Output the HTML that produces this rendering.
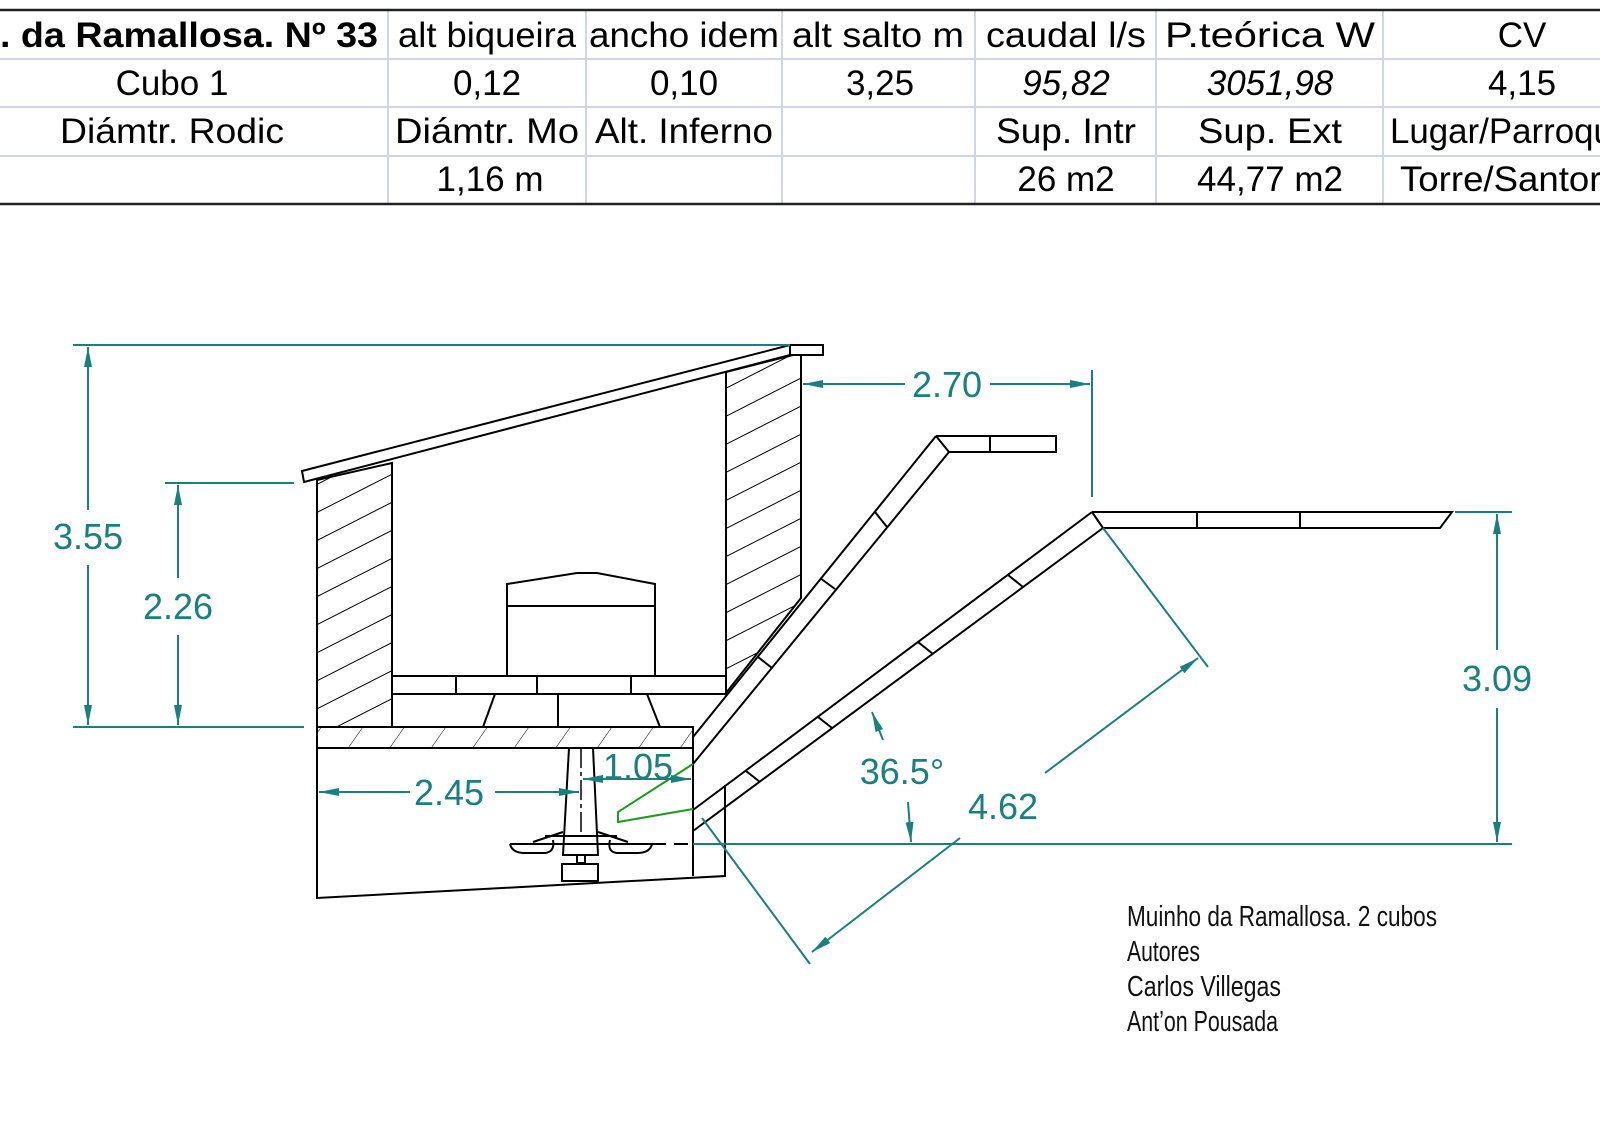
<!DOCTYPE html>
<html><head><meta charset="utf-8"><style>
html,body{margin:0;padding:0;background:#fff;width:1600px;height:1135px;overflow:hidden}
svg{display:block}
</style></head><body>
<svg width="1600" height="1135" viewBox="0 0 1600 1135" xmlns="http://www.w3.org/2000/svg">
<defs>
<pattern id="h1" patternUnits="userSpaceOnUse" width="25" height="25" patternTransform="rotate(-27)">
<line x1="0" y1="0" x2="25" y2="0" stroke="#000" stroke-width="2"/></pattern>
<pattern id="h2" patternUnits="userSpaceOnUse" width="34" height="34" patternTransform="rotate(35)">
<line x1="0" y1="0" x2="0" y2="34" stroke="#000" stroke-width="1"/></pattern>
<marker id="ar" viewBox="0 0 20 10" refX="20" refY="5" markerWidth="20" markerHeight="10" markerUnits="userSpaceOnUse" orient="auto-start-reverse"><path d="M0,1 L20,5 L0,9 z" fill="#1a7f7f"/></marker>
</defs>

<g font-family="Liberation Sans, sans-serif" font-size="35" fill="#000" text-anchor="middle">
<g stroke="#cfd6e6" stroke-width="2">
<line x1="0" y1="59" x2="1600" y2="59"/><line x1="0" y1="107" x2="1600" y2="107"/><line x1="0" y1="156" x2="1600" y2="156"/>
<line x1="388" y1="10" x2="388" y2="204"/><line x1="586" y1="10" x2="586" y2="204"/><line x1="782" y1="10" x2="782" y2="204"/>
<line x1="975" y1="10" x2="975" y2="204"/><line x1="1156" y1="10" x2="1156" y2="204"/><line x1="1383" y1="10" x2="1383" y2="204"/>
</g>
<line x1="0" y1="10" x2="1600" y2="10" stroke="#222" stroke-width="2.5"/>
<line x1="0" y1="204" x2="1600" y2="204" stroke="#222" stroke-width="2.5"/>
<text x="378" y="47" text-anchor="end" font-weight="bold" textLength="378" lengthAdjust="spacingAndGlyphs">. da Ramallosa. Nº 33</text>
<text x="487" y="47" textLength="178" lengthAdjust="spacingAndGlyphs">alt biqueira</text>
<text x="684" y="47" textLength="190" lengthAdjust="spacingAndGlyphs">ancho idem</text>
<text x="878" y="47" textLength="172" lengthAdjust="spacingAndGlyphs">alt salto m</text>
<text x="1066" y="47" textLength="160" lengthAdjust="spacingAndGlyphs">caudal l/s</text>
<text x="1270" y="47" textLength="210" lengthAdjust="spacingAndGlyphs">P.teórica  W</text><text x="1522" y="47">CV</text>
<text x="172" y="95">Cubo 1</text><text x="487" y="95">0,12</text><text x="684" y="95">0,10</text><text x="880" y="95">3,25</text>
<text x="1066" y="95" font-style="italic">95,82</text><text x="1270" y="95" font-style="italic">3051,98</text><text x="1522" y="95">4,15</text>
<text x="172" y="143" textLength="224" lengthAdjust="spacingAndGlyphs">Diámtr. Rodic</text>
<text x="487" y="143" textLength="184" lengthAdjust="spacingAndGlyphs">Diámtr. Mo</text>
<text x="684" y="143" textLength="178" lengthAdjust="spacingAndGlyphs">Alt. Inferno</text>
<text x="1066" y="143" textLength="140" lengthAdjust="spacingAndGlyphs">Sup. Intr</text>
<text x="1270" y="143" textLength="144" lengthAdjust="spacingAndGlyphs">Sup. Ext</text>
<text x="1390" y="143" text-anchor="start" textLength="250" lengthAdjust="spacingAndGlyphs">Lugar/Parroquia</text>
<text x="490" y="191">1,16 m</text><text x="1066" y="191">26 m2</text><text x="1270" y="191">44,77 m2</text>
<text x="1400" y="191" text-anchor="start" textLength="230" lengthAdjust="spacingAndGlyphs">Torre/Santoria</text>
</g>

<g stroke="#000" stroke-width="2" fill="none">
<polygon points="317,480 392,463 392,727 317,727" fill="url(#h1)"/>
<polygon points="726,372 801,353 801,598 726,693" fill="url(#h1)"/>
<polygon points="302,471 790,345 790,355 304,482" fill="#fff"/>
<rect x="790" y="345" width="33" height="10" fill="#fff"/>
<rect x="317" y="727" width="376" height="21" fill="url(#h2)"/>
<polyline points="317,748 317,898 725,876 725,785"/>
<line x1="693" y1="748" x2="693" y2="876"/>
<rect x="392" y="676" width="334" height="18" fill="#fff"/>
<line x1="456" y1="676" x2="456" y2="694"/><line x1="537" y1="676" x2="537" y2="694"/><line x1="631" y1="676" x2="631" y2="694"/>
<line x1="495" y1="694" x2="483" y2="727"/><line x1="647" y1="694" x2="660" y2="727"/><line x1="558" y1="694" x2="558" y2="727"/>
<path d="M507,676 L507,584 L577,573 L597,573 L655,584 L655,676"/>
<line x1="507" y1="606" x2="655" y2="606"/>
<polygon points="569,748 593,748 598,855 563,855" fill="#fff"/>
<line x1="581" y1="748" x2="581" y2="835" stroke-dasharray="20,4,4,4" stroke-width="1.5"/>
<path d="M510,844 L652,844 M510,844 Q512,853 525,853 L545,853 Q555,852 553,840 M652,844 Q650,853 637,853 L617,853 Q607,852 610,840 M545,836 L617,836 M533,842 L563,832 M628,842 L598,832"/>
<rect x="577" y="855" width="8" height="8"/>
<rect x="562" y="864" width="36" height="17"/>
<line x1="652" y1="844" x2="693" y2="844" stroke-dasharray="14,8"/>
<line x1="693" y1="737" x2="936" y2="436"/>
<line x1="693" y1="764" x2="949" y2="452"/>
<line x1="936" y1="436" x2="949" y2="452"/>
<polyline points="936,436 1056,436 1056,452 949,452"/>
<line x1="990" y1="436" x2="990" y2="452"/>
<line x1="875" y1="512" x2="887" y2="527"/><line x1="820" y1="578" x2="835" y2="589"/><line x1="758" y1="657" x2="772" y2="668"/>
<line x1="693" y1="810" x2="1092" y2="512"/>
<line x1="693" y1="831" x2="1103" y2="528"/>
<line x1="1092" y1="512" x2="1103" y2="528"/>
<polyline points="1092,512 1452,512 1440,528 1103,528"/>
<line x1="1197" y1="512" x2="1197" y2="528"/><line x1="1300" y1="512" x2="1300" y2="528"/>
<line x1="1008" y1="575" x2="1023" y2="587"/><line x1="918" y1="642" x2="933" y2="654"/><line x1="818" y1="717" x2="832" y2="728"/><line x1="746" y1="771" x2="760" y2="782"/>
</g>
<polyline points="693,764 618,812 618,822 693,809" fill="none" stroke="#1e9a1e" stroke-width="2"/>

<g stroke="#1a7f7f" stroke-width="2" fill="none">
<line x1="73" y1="345" x2="790" y2="345"/><line x1="73" y1="727" x2="304" y2="727"/>
<line x1="88" y1="347" x2="88" y2="510" marker-start="url(#ar)"/><line x1="88" y1="565" x2="88" y2="725" marker-end="url(#ar)"/>
<line x1="165" y1="483" x2="294" y2="483"/>
<line x1="178" y1="485" x2="178" y2="578" marker-start="url(#ar)"/><line x1="178" y1="635" x2="178" y2="725" marker-end="url(#ar)"/>
<line x1="803" y1="384" x2="905" y2="384" marker-start="url(#ar)"/><line x1="990" y1="384" x2="1090" y2="384" marker-end="url(#ar)"/>
<line x1="1092" y1="370" x2="1092" y2="497"/>
<line x1="1455" y1="512" x2="1512" y2="512"/><line x1="693" y1="844" x2="1512" y2="844"/>
<line x1="1497" y1="514" x2="1497" y2="650" marker-start="url(#ar)"/><line x1="1497" y1="708" x2="1497" y2="842" marker-end="url(#ar)"/>
<line x1="319" y1="792" x2="410" y2="792" marker-start="url(#ar)"/><line x1="495" y1="792" x2="579" y2="792" marker-end="url(#ar)"/>
<line x1="583" y1="779" x2="691" y2="779" marker-start="url(#ar)" marker-end="url(#ar)"/>
<line x1="1103" y1="528" x2="1208" y2="667"/><line x1="702" y1="818" x2="810" y2="964"/>
<line x1="812" y1="952" x2="960" y2="838" marker-start="url(#ar)"/><line x1="1045" y1="773" x2="1198" y2="658" marker-end="url(#ar)"/>
<line x1="883" y1="740" x2="872" y2="712" marker-end="url(#ar)"/>
<line x1="908" y1="802" x2="911" y2="842" marker-end="url(#ar)"/>
</g>
<g font-family="Liberation Sans, sans-serif" font-size="36" fill="#1a7f7f" text-anchor="middle">
<text x="88" y="549">3.55</text><text x="178" y="619">2.26</text><text x="947" y="397">2.70</text>
<text x="1497" y="691">3.09</text><text x="449" y="805">2.45</text><text x="638" y="779">1.05</text>
<text x="1003" y="819">4.62</text><text x="902" y="784">36.5°</text>
</g>
<g font-family="Liberation Sans, sans-serif" font-size="29" fill="#111">
<text x="1127" y="926" textLength="310" lengthAdjust="spacingAndGlyphs">Muinho da Ramallosa. 2 cubos</text>
<text x="1127" y="961" textLength="73" lengthAdjust="spacingAndGlyphs">Autores</text>
<text x="1127" y="996" textLength="154" lengthAdjust="spacingAndGlyphs">Carlos Villegas</text>
<text x="1127" y="1031" textLength="151" lengthAdjust="spacingAndGlyphs">Ant’on Pousada</text>
</g>
</svg>
</body></html>
